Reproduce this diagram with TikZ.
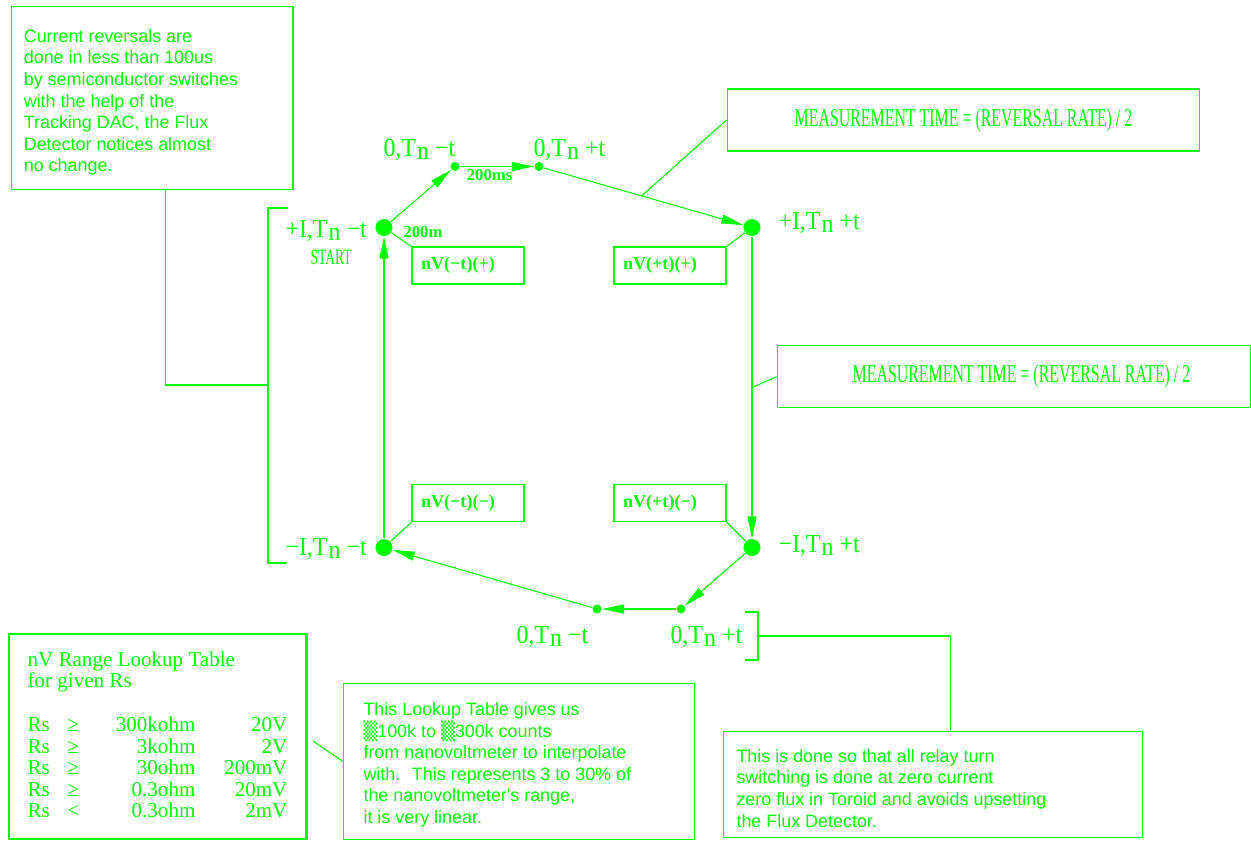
\documentclass[tikz,border=0pt]{standalone}
\usepackage{fontspec}
\setmainfont{Liberation Serif}
\newfontfamily\notefont{Liberation Sans}
\newfontfamily\capsfont[FakeStretch=0.62]{Liberation Serif}
\newfontfamily\labelfont[FakeStretch=0.92]{Liberation Serif}
\newfontfamily\symfont{DejaVu Sans}
\usepackage{xcolor}
\usetikzlibrary{arrows.meta, positioning, calc}
\definecolor{cadgreen}{RGB}{0,255,0}
\newcommand{\Tn}{T\kern0.6pt\raisebox{-0.12em}{n}}
\newcommand{\shade}{{\symfont ▒}}
\newcommand{\rsrow}[3]{\makebox[0.8cm][l]{Rs}\makebox[2.56cm][l]{#1\hfill #2}\makebox[1.84cm][r]{#3}}

\begin{document}
\begin{tikzpicture}[
    x=0.02cm, y=-0.02cm,
    line width=0.6pt, color=cadgreen,
    bigdot/.style={circle, fill=cadgreen, inner sep=0pt, minimum size=0.34cm},
    smalldot/.style={circle, fill=cadgreen, inner sep=0pt, minimum size=0.18cm},
    statelabel/.style={anchor=base west, inner sep=0pt, font=\labelfont\fontsize{14.8}{17}\selectfont},
    smalllab/.style={inner sep=1.5pt, font=\bfseries\fontsize{9.5}{11}\selectfont},
    readbox/.style={rectangle, draw, minimum width=2.24cm, minimum height=0.74cm, inner xsep=0.18cm, inner ysep=0pt, text width=1.88cm, align=left, font=\bfseries\fontsize{10.3}{12}\selectfont},
    mtbox/.style={rectangle, draw, minimum width=9.46cm, minimum height=1.24cm, inner sep=0pt, font=\capsfont\fontsize{14.6}{16}\selectfont},
    notebox/.style={rectangle, draw, anchor=north west, inner sep=0pt},
    notetext/.style={anchor=north west, align=left, inner sep=0pt, font=\notefont\fontsize{10.2}{12.3}\selectfont},
    arrow/.style={-{Triangle[length=0.44cm, width=0.18cm]}}
]
\useasboundingbox (0,0) rectangle (1251,840);

% states of the reversal cycle
\node (pit) [bigdot] at (384,227.5) {};
\node (pip) [bigdot] at (752,227.5) {};
\node (mip) [bigdot] at (752,547.5) {};
\node (mit) [bigdot] at (384,547.5) {};
\node (zmt) [smalldot] at (455,166.5) {};
\node (zpt) [smalldot] at (539,166.5) {};
\node (zpb) [smalldot] at (681,609) {};
\node (zmb) [smalldot] at (597,609) {};

\node (pitlab) [statelabel] at (285,237) {+I,\Tn{} −t};
\node (startlab) [anchor=base west, inner sep=0pt, font=\capsfont\fontsize{12.5}{14}\selectfont] at (310,264) {START};
\node (pitms) [smalllab, anchor=base west, inner sep=0pt] at (403,237) {200m};
\node (piplab) [statelabel] at (778,229) {+I,\Tn{} +t};
\node (miplab) [statelabel] at (778,552) {−I,\Tn{} +t};
\node (mitlab) [statelabel] at (285,555) {−I,\Tn{} −t};
\node (zmtlab) [statelabel] at (383,156) {0,\Tn{} −t};
\node (zptlab) [statelabel] at (533,156) {0,\Tn{} +t};
\node (zmblab) [statelabel] at (516,643) {0,\Tn{} −t};
\node (zpblab) [statelabel] at (670,643) {0,\Tn{} +t};

\draw [arrow] (pit) -- (zmt);
\draw [arrow] (zmt) -- node[smalllab, below, pos=0.4] {200ms} (zpt);
\draw [arrow] (zpt) -- coordinate[pos=0.49] (mtone) (pip);
\draw [arrow] (pip) -- coordinate[pos=0.5] (mttwo) (mip);
\draw [arrow] (mip) -- (zpb);
\draw [arrow] (zpb) -- (zmb);
\draw [arrow] (zmb) -- (mit);
\draw [arrow] (mit) -- (pit);

% nanovoltmeter readings
\node (nvtp) [readbox] at (468,265.5) {nV(−t)(+)};
\node (nvpp) [readbox] at (670,265.5) {nV(+t)(+)};
\node (nvtm) [readbox] at (468,503) {nV(−t)(−)};
\node (nvpm) [readbox] at (670,503) {nV(+t)(−)};
\draw (pit) -- (nvtp.north west);
\draw (pip) -- (nvpp.north east);
\draw (mit) -- (nvtm.south west);
\draw (mip) -- (nvpm.south east);

% measurement time notes
\node (mtboxa) [mtbox] at (963.5,120) {MEASUREMENT TIME = (REVERSAL RATE) / 2};
\node (mtboxb) [mtbox] at (1014,376.5) {\hspace*{0.3cm}MEASUREMENT TIME = (REVERSAL RATE) / 2};
\draw (mtboxa.west) -- (mtone);
\draw (mtboxb.west) -- (mttwo);

% reversal note and left bracket
\node (revbox) [notebox, minimum width=5.63cm, minimum height=3.67cm] at (11,5.7) {};
\node (revtext) [notetext, below right=0.462cm and 0.246cm of revbox.north west] {Current reversals are\\done in less than 100us\\by semiconductor switches\\with the help of the\\Tracking DAC, the Flux\\Detector notices almost\\no change.};
\draw (288,208) -- (268,208) -- (268,563) -- (287,563);
\coordinate (lbrack) at (268,385);
\draw ($(revbox.south west)!0.546!(revbox.south east)$) |- (lbrack);

% lookup table
\node (tabbox) [notebox, line width=1.4pt, minimum width=5.95cm, minimum height=4.1cm] at (8,633) {};
\node (tabtext) [anchor=north west, align=left, inner sep=0pt, font=\fontsize{12}{12.3}\selectfont, below right=0.36cm and 0.38cm of tabbox.north west] {nV Range Lookup Table\\for given Rs\\[12.6pt]
  \rsrow{≥}{300kohm}{20V}\\
  \rsrow{≥}{3kohm}{2V}\\
  \rsrow{≥}{30ohm}{200mV}\\
  \rsrow{≥}{0.3ohm}{20mV}\\
  \rsrow{<}{0.3ohm}{2mV}};

% counts note
\node (countbox) [notebox, minimum width=7.02cm, minimum height=3.12cm] at (343,683) {};
\node (counttext) [notetext, below right=0.38cm and 0.4cm of countbox.north west] {This Lookup Table gives us\\\shade100k to \shade300k counts\\from nanovoltmeter to interpolate\\with.~ This represents 3 to 30\% of\\the nanovoltmeter's range,\\it is very linear.};
\coordinate (tabtap) at (313,741);
\draw (tabtap) -- (countbox.west);

% relay note and right bracket
\node (donebox) [notebox, minimum width=8.39cm, minimum height=2.13cm] at (723,730.7) {};
\node (donetext) [notetext, below right=0.36cm and 0.26cm of donebox.north west] {This is done so that all relay turn\\switching is done at zero current\\zero flux in Toroid and avoids upsetting\\ the Flux Detector.};
\draw (745,612) -- (758,612) -- (758,660) -- (745,660);
\coordinate (rbrack) at (758,636);
\draw (rbrack) -| ($(donebox.north west)!0.541!(donebox.north east)$);

\end{tikzpicture}
\end{document}
